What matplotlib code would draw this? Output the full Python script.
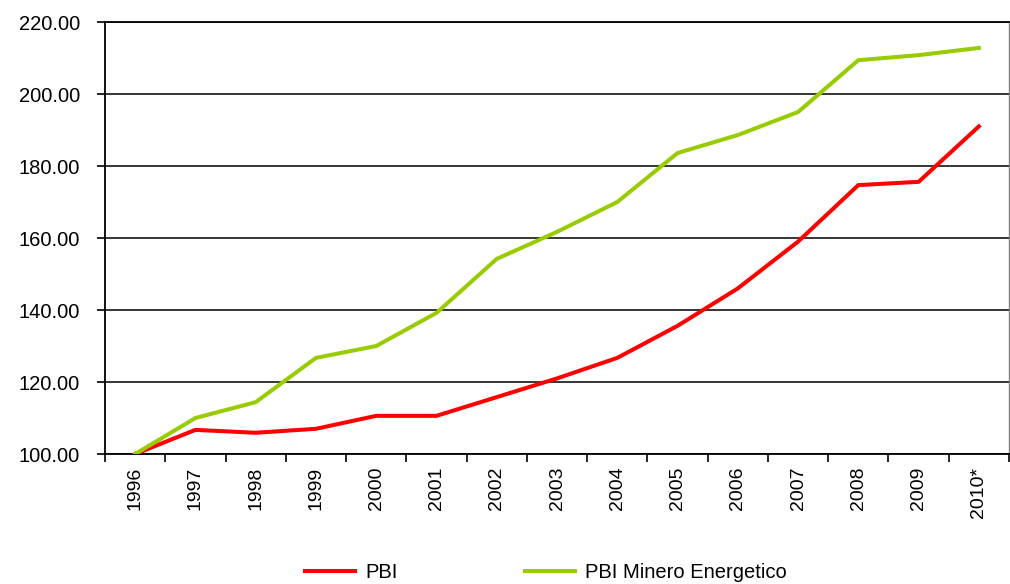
import numpy as np
import matplotlib
matplotlib.use("Agg")
import matplotlib.pyplot as plt

plt.rcParams['font.family'] = ['Liberation Sans', 'DejaVu Sans']

# %% Data
years = ['1996', '1997', '1998', '1999', '2000', '2001', '2002', '2003',
         '2004', '2005', '2006', '2007', '2008', '2009', '2010*']
pbi = [100.0, 106.7, 105.9, 107.0, 110.6, 110.6, 115.8, 121.0,
       126.7, 135.6, 146.0, 159.0, 174.7, 175.6, 191.0]
pbi_minero = [100.0, 110.0, 114.4, 126.7, 130.0, 139.2, 154.2, 161.7,
              170.0, 183.6, 188.6, 195.0, 209.4, 210.8, 212.8]
yticks = [100, 120, 140, 160, 180, 200, 220]

# %% Plot
fig = plt.figure(figsize=(10.1, 5.84), dpi=100)
ax = fig.add_axes([0.104, 0.2226, 0.895, 0.7397])

x = np.arange(len(years))
ax.plot(x, pbi, color='#FF0000', lw=2.9, label='PBI', zorder=3)
ax.plot(x, pbi_minero, color='#99CC00', lw=2.9, label='PBI Minero Energetico', zorder=3)

ax.set_xlim(-0.5, len(years) - 0.5)
ax.set_ylim(100, 220)
ax.set_yticks(yticks)
ax.set_yticklabels([f'{v:.2f}' for v in yticks], fontsize=14.5)
ax.yaxis.grid(True, color='black', lw=1.1)
ax.set_axisbelow(True)

# category labels at centres, tick marks at boundaries
ax.set_xticks(x)
ax.set_xticklabels(years, rotation=90, fontsize=14)
ax.set_xticks(np.arange(len(years) + 1) - 0.5, minor=True)
ax.tick_params(axis='x', which='major', length=0, pad=9)
ax.tick_params(axis='x', which='minor', length=6, width=1.2, direction='out')
ax.tick_params(axis='y', length=6, width=1.2, direction='out', pad=12)

for s in ['left', 'bottom', 'top']:
    ax.spines[s].set_color('black')
    ax.spines[s].set_linewidth(1.3)
ax.spines['right'].set_color('#808080')
ax.spines['right'].set_linewidth(1.0)

fig.legend(loc='center left', bbox_to_anchor=(0.302, 0.02), ncol=2, frameon=False,
           fontsize=14.5, handlelength=2.5, handletextpad=0.5, columnspacing=6.3,
           borderpad=0, borderaxespad=0)

fig.savefig('out.png', dpi=100)
